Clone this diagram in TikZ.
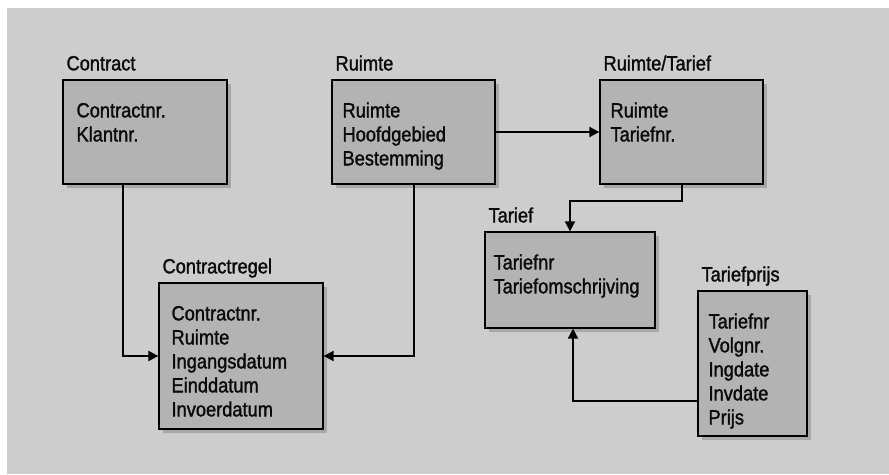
\documentclass[tikz,border=0pt]{standalone}
\usepackage{fontspec}
\setmainfont[FakeStretch=0.89, FakeBold=1.5]{Liberation Sans}
\usetikzlibrary{arrows.meta, positioning, calc, shadows}
\definecolor{canvas}{RGB}{205,205,205}
\definecolor{boxfill}{RGB}{179,179,179}
\definecolor{ink}{RGB}{10,10,10}
\newcommand{\boxfont}{\fontsize{20.5}{24}\selectfont}

\begin{document}
\begin{tikzpicture}[x=1pt, y=-1pt,
    entity/.style={draw=black, line width=1.3pt, fill=boxfill, inner sep=0pt,
        drop shadow={shadow xshift=4pt, shadow yshift=-4pt, fill=black, opacity=0.18}},
    title/.style={anchor=base west, inner sep=0pt, text=ink, font=\boxfont},
    fields/.style={anchor=base west, inner sep=0pt, align=left, text=ink, font=\boxfont},
    conn/.style={line width=2pt, -{Triangle[length=10pt, width=10pt]}}]
    \useasboundingbox (0,0) rectangle (889,474);
    \fill[canvas] (7,8) rectangle (889,474);

    % Tables
    \node[entity, minimum width=164pt, minimum height=104pt] (contract) at (145,132) {};
    \node[entity, minimum width=163pt, minimum height=104pt] (ruimte) at (413.5,132) {};
    \node[entity, minimum width=163pt, minimum height=104pt] (ruimtetarief) at (681.5,132) {};
    \node[entity, minimum width=170pt, minimum height=96pt] (tarief) at (570,280) {};
    \node[entity, minimum width=109pt, minimum height=145pt] (tariefprijs) at (752.5,363.5) {};
    \node[entity, minimum width=164pt, minimum height=146pt] (contractregel) at (241,356) {};

    % Table names
    \node[title] (contractT) at ([shift={(4pt,9pt)}]contract.north west) {Contract};
    \node[title] (ruimteT) at ([shift={(4pt,9pt)}]ruimte.north west) {Ruimte};
    \node[title] (ruimtetariefT) at ([shift={(4pt,9pt)}]ruimtetarief.north west) {Ruimte/Tarief};
    \node[title] (tariefT) at ([shift={(4pt,9pt)}]tarief.north west) {Tarief};
    \node[title] (tariefprijsT) at ([shift={(4pt,9pt)}]tariefprijs.north west) {Tariefprijs};
    \node[title] (contractregelT) at ([shift={(4pt,9pt)}]contractregel.north west) {Contractregel};

    % Fields (base = last line, so shift by 38 + 24 per extra line)
    \node[fields] (contractF) at ([shift={(14pt,-62pt)}]contract.north west)
        {Contractnr.\\Klantnr.};
    \node[fields] (ruimteF) at ([shift={(11pt,-86pt)}]ruimte.north west)
        {Ruimte\\Hoofdgebied\\Bestemming};
    \node[fields] (ruimtetariefF) at ([shift={(11pt,-62pt)}]ruimtetarief.north west)
        {Ruimte\\Tariefnr.};
    \node[fields] (tariefF) at ([shift={(9pt,-62pt)}]tarief.north west)
        {Tariefnr\\Tariefomschrijving};
    \node[fields] (tariefprijsF) at ([shift={(11pt,-134pt)}]tariefprijs.north west)
        {Tariefnr\\Volgnr.\\Ingdate\\Invdate\\Prijs};
    \node[fields] (contractregelF) at ([shift={(13pt,-134pt)}]contractregel.north west)
        {Contractnr.\\Ruimte\\Ingangsdatum\\Einddatum\\Invoerdatum};

    % Relations
    \draw[conn] ([xshift=-22pt]contract.south) |- (contractregel.west);
    \draw[conn] (ruimte.south) |- (contractregel.east);
    \draw[conn] (ruimte.east) -- (ruimtetarief.west);
    \draw[conn] (ruimtetarief.south) -- ++(0,16) -| (tarief.north);
    \draw[conn] ([yshift=-37.5pt]tariefprijs.west) -| ([xshift=3pt]tarief.south);
\end{tikzpicture}
\end{document}
